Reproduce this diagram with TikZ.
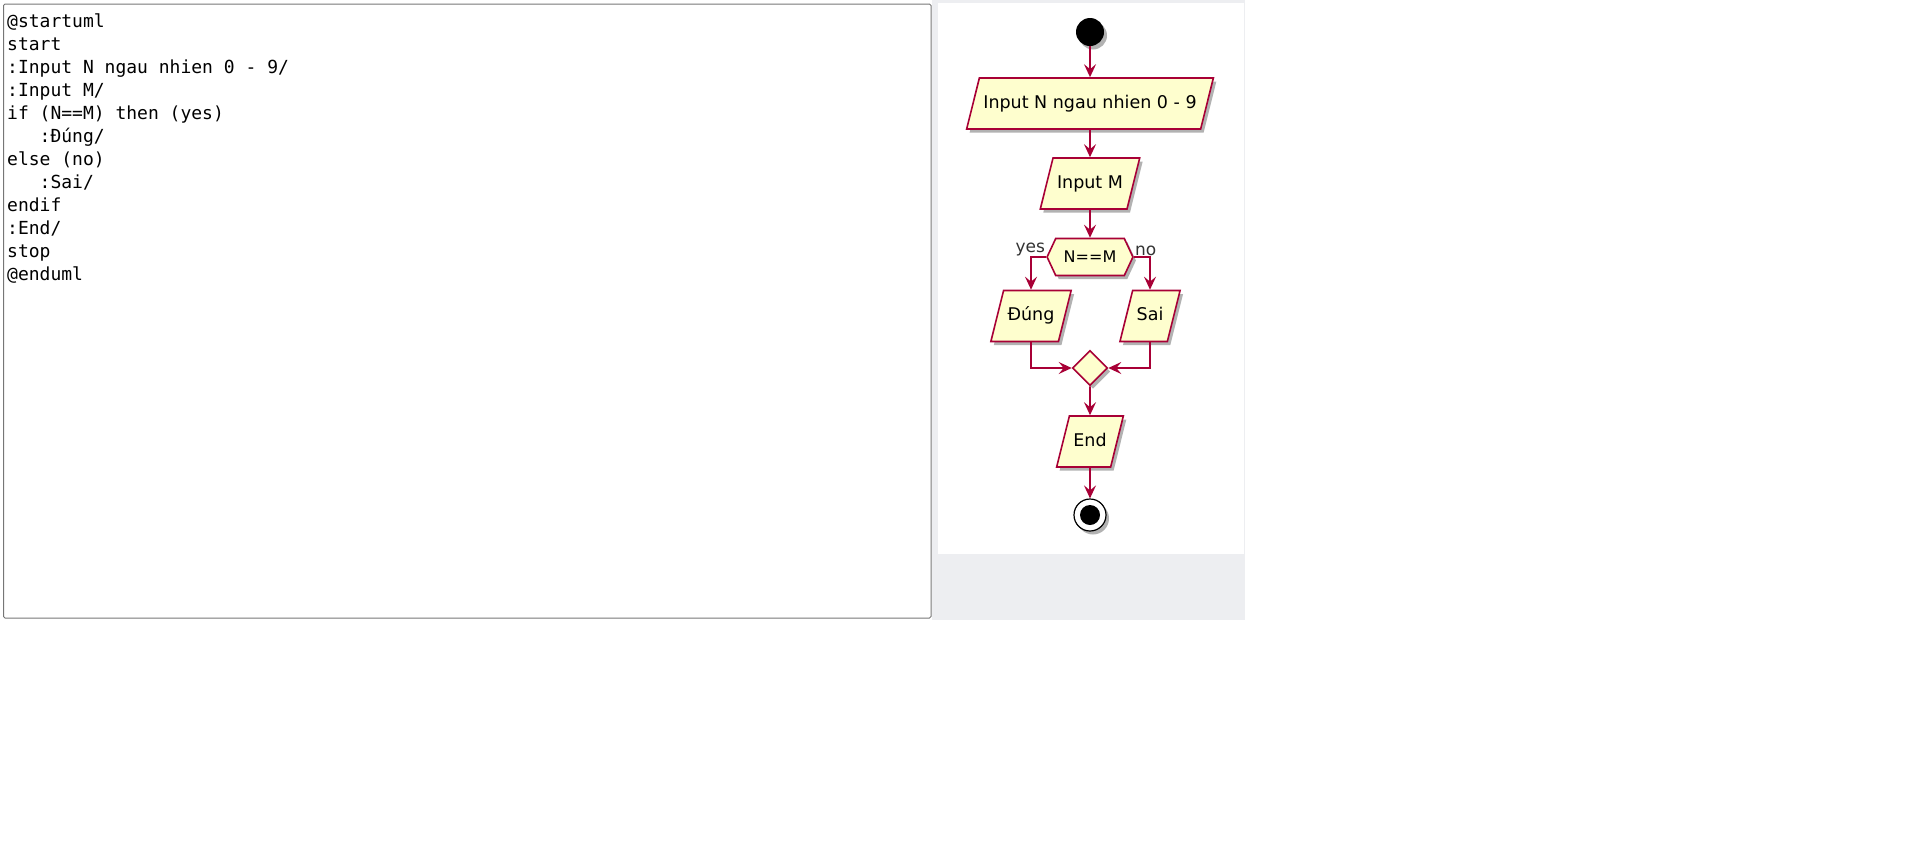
\documentclass[tikz,border=0pt]{standalone}
\usepackage{fontspec}
\setmainfont{DejaVu Sans}
\newfontfamily\codefont{DejaVu Sans Mono}
\usetikzlibrary{shapes,shadows,arrows.meta}

\definecolor{umlred}{HTML}{A80036}
\definecolor{umlfill}{HTML}{FEFECE}
\definecolor{panelgray}{HTML}{EDEEF1}
\definecolor{boxgray}{HTML}{767676}

\begin{document}
\begin{tikzpicture}[x=1pt,y=-1pt]
    \tikzstyle{umlshadow}=[drop shadow={shadow xshift=3pt,shadow yshift=-3.5pt,opacity=0.3,fill=black}]
    \tikzstyle{io}=[trapezium,trapezium left angle=76,trapezium right angle=104,draw=umlred,fill=umlfill,line width=1.6pt,text height=13pt,text depth=4pt,inner ysep=17pt,inner xsep=4pt,font=\fontsize{17.5}{20}\selectfont,umlshadow]
    \tikzstyle{cond}=[signal,signal to=east and west,signal pointer angle=130,draw=umlred,fill=umlfill,line width=1.6pt,minimum height=37pt,inner xsep=8pt,font=\fontsize{16}{18}\selectfont,umlshadow]
    \tikzstyle{merge}=[diamond,draw=umlred,fill=umlfill,line width=1.6pt,minimum size=35pt,inner sep=0pt,umlshadow]
    \tikzstyle{flow}=[draw=umlred,line width=1.6pt,-{Stealth[length=13pt,width=12pt,inset=5pt]}]
    \tikzstyle{lbl}=[font=\fontsize{17}{19}\selectfont,text=black!80,inner sep=1pt]
    \tikzstyle{code}=[font=\codefont\fontsize{18}{23}\selectfont,inner sep=0pt,anchor=base west]
    \useasboundingbox (0,0) rectangle (1914,844);
    % background and code box
    \fill[panelgray] (932,0) rectangle (1245,620);
    \fill[white] (938,3) rectangle (1244,554);
    \draw[boxgray,line width=1pt,rounded corners=1.5pt] (3.5,4) rectangle (931,618);
    \foreach \t [count=\i] in {{@startuml},{start},{:Input N ngau nhien 0 - 9/},{:Input M/},{if (N==M) then (yes)},{\ \ \ :Đúng/},{else (no)},{\ \ \ :Sai/},{endif},{:End/},{stop},{@enduml}}
      \node[code] (line\i) at (7,{27+23*(\i-1)}) {\t};
    % flowchart
    \node[circle,fill=black,minimum size=28pt,inner sep=0pt,umlshadow] (start) at (1090,32) {};
    \node[io] (inputN) at (1090,103.5) {Input N ngau nhien 0 - 9};
    \node[io] (inputM) at (1090,183.5) {Input M};
    \node[cond] (test) at (1090,257) {N==M};
    \node[io] (dung) at (1031,316) {Đúng};
    \node[io] (sai) at (1150,316) {Sai};
    \node[merge] (join) at (1090,368) {};
    \node[io] (fin) at (1090,441.5) {End};
    \node[circle,draw=black,fill=white,line width=1.2pt,minimum size=32pt,inner sep=0pt,umlshadow] (stop) at (1090,515) {};
    \node[circle,fill=black,minimum size=20pt,inner sep=0pt] (stopdot) at (stop) {};
    \draw[flow] (start) -- (inputN);
    \draw[flow] (inputN) -- (inputM);
    \draw[flow] (inputM) -- (test);
    \draw[flow] (test.west) -| (dung.north);
    \draw[flow] (test.east) -| (sai.north);
    \draw[flow] (dung.south) |- (join.west);
    \draw[flow] (sai.south) |- (join.east);
    \draw[flow] (join) -- (fin);
    \draw[flow] (fin) -- (stop);
    \node[lbl,anchor=south east] (yes) at (test.west) {yes};
    \node[lbl,anchor=south west] (no) at (test.east) {no};
\end{tikzpicture}
\end{document}
